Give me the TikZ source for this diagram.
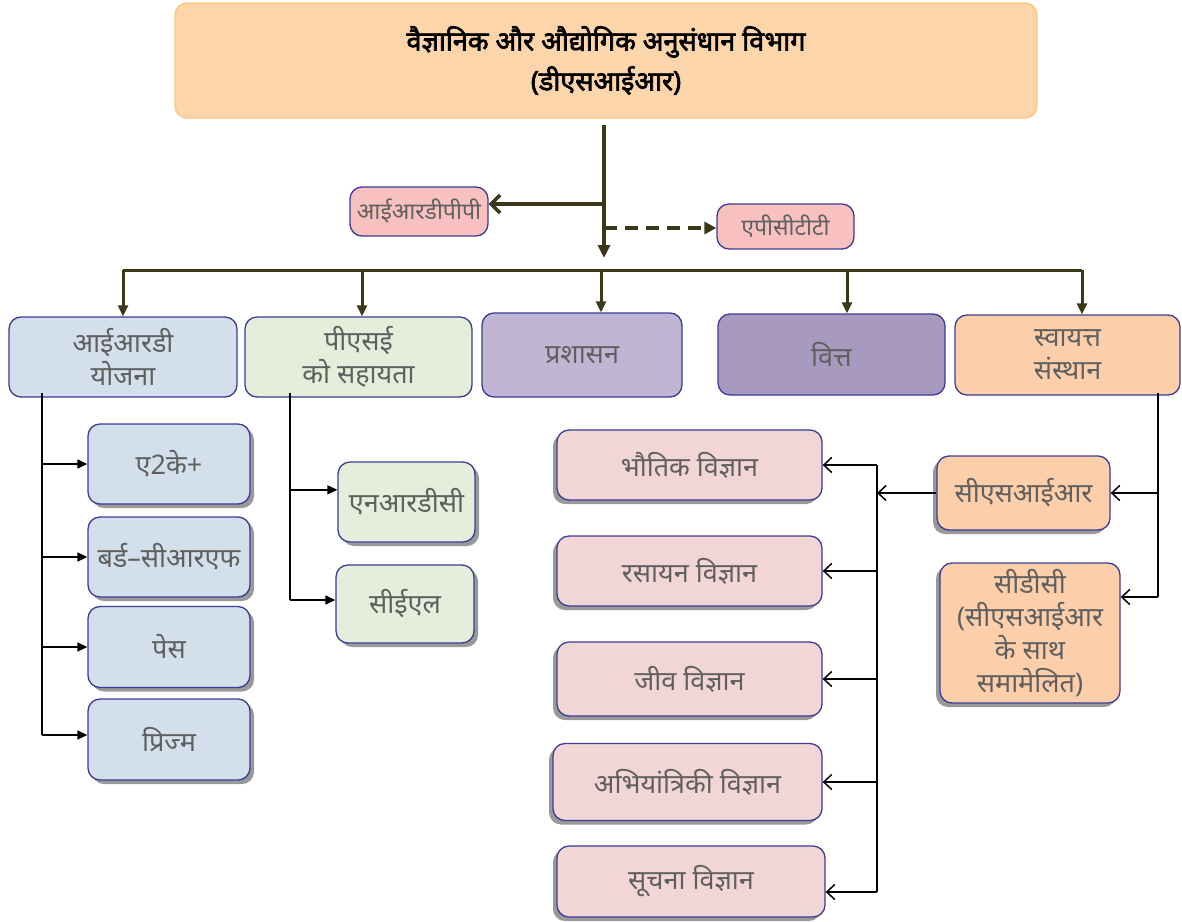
\documentclass[tikz,border=0pt]{standalone}
\usepackage{fontspec}
\setmainfont[Script=Devanagari]{Noto Sans}
\newfontfamily\titlefont[Script=Devanagari, FakeBold=2.5]{Noto Sans}
\usetikzlibrary{arrows.meta,shadows}

\definecolor{titlefill}{HTML}{FDD5AB}
\definecolor{titleline}{HTML}{F9C77E}
\definecolor{boxline}{HTML}{3B3B98}
\definecolor{txtgray}{HTML}{5F5F5F}
\definecolor{mainline}{HTML}{3A3817}
\definecolor{pinkfill}{HTML}{F9C0C0}
\definecolor{bluefill}{HTML}{D3DFEB}
\definecolor{greenfill}{HTML}{E4EEDA}
\definecolor{lilacfill}{HTML}{C0B6D4}
\definecolor{purplefill}{HTML}{A899BF}
\definecolor{peachfill}{HTML}{FCCEAA}
\definecolor{scifill}{HTML}{F2D6D5}

\begin{document}
\begin{tikzpicture}[x=1pt, y=-1pt,
    box/.style={draw=boxline, line width=1.3pt, rounded corners=12pt, inner sep=0pt,
      align=center, text=txtgray, font=\fontsize{27}{33}\selectfont},
    rshadow/.style={drop shadow={shadow xshift=4pt, shadow yshift=-4pt, fill=gray!80, opacity=1}},
    lshadow/.style={drop shadow={shadow xshift=-4pt, shadow yshift=-4pt, fill=gray!80, opacity=1}},
    trunk/.style={draw=mainline, line width=3.5pt},
    drop/.style={draw=mainline, line width=3pt, -{Triangle[length=11pt,width=10pt]}},
    sub/.style={draw=black, line width=1.5pt},
    subarrow/.style={sub, -{Triangle[length=10pt,width=9pt]}},
    openarrow/.style={sub, -{Straight Barb[length=8pt,width=15pt]}}]

  \useasboundingbox (0,0) rectangle (1182,921);

  % head office
  \node[box, draw=titleline, fill=titlefill, text=black, minimum width=862pt, minimum height=115pt,
    font=\titlefont\fontsize{27}{40}\selectfont] (dsir) at (606,60.5)
    {वैज्ञानिक और औद्योगिक अनुसंधान विभाग\\(डीएसआईआर)};

  \node[box, fill=pinkfill, minimum width=138pt, minimum height=49pt,
    font=\fontsize{23}{26}\selectfont] (irdppp) at (419,211.5) {आईआरडीपीपी};
  \node[box, fill=pinkfill, minimum width=137pt, minimum height=45pt,
    font=\fontsize{23}{26}\selectfont] (apctt) at (785.5,226.5) {एपीसीटीटी};

  % divisions
  \node[box, fill=bluefill, minimum width=228pt, minimum height=80pt] (ird) at (123,357) {आईआरडी\\योजना};
  \node[box, fill=greenfill, minimum width=227pt, minimum height=80pt] (pse) at (358.5,357) {पीएसई\\को सहायता};
  \node[box, fill=lilacfill, minimum width=200pt, minimum height=84pt] (admin) at (582,355) {प्रशासन};
  \node[box, fill=purplefill, minimum width=227pt, minimum height=81pt] (fin) at (831.5,354.5) {वित्त};
  \node[box, fill=peachfill, minimum width=225pt, minimum height=80pt] (auto) at (1067.5,355) {स्वायत्त\\संस्थान};

  % ird schemes
  \node[box, rshadow, fill=bluefill, minimum width=162pt, minimum height=80pt] (atok) at (169,464) {ए2के+};
  \node[box, rshadow, fill=bluefill, minimum width=162pt, minimum height=80pt] (bird) at (169,557) {बर्ड–सीआरएफ};
  \node[box, rshadow, fill=bluefill, minimum width=162pt, minimum height=81pt] (pace) at (169,647) {पेस};
  \node[box, rshadow, fill=bluefill, minimum width=162pt, minimum height=81pt] (prism) at (169,739.5) {प्रिज्म};

  % pse
  \node[box, rshadow, fill=greenfill, minimum width=137pt, minimum height=80pt] (nrdc) at (406.5,502) {एनआरडीसी};
  \node[box, rshadow, fill=greenfill, minimum width=138pt, minimum height=78pt] (cel) at (405,604) {सीईएल};

  % autonomous bodies
  \node[box, lshadow, fill=peachfill, minimum width=173pt, minimum height=74pt] (csir) at (1023.5,493) {सीएसआईआर};
  \node[box, lshadow, fill=peachfill, minimum width=180pt, minimum height=140pt] (cdc) at (1030,633)
    {सीडीसी\\(सीएसआईआर\\के साथ\\समामेलित)};

  % labs
  \node[box, lshadow, fill=scifill, minimum width=265pt, minimum height=70pt] (phy) at (689.5,465) {भौतिक विज्ञान};
  \node[box, lshadow, fill=scifill, minimum width=265pt, minimum height=70pt] (chem) at (689.5,571) {रसायन विज्ञान};
  \node[box, lshadow, fill=scifill, minimum width=265pt, minimum height=74pt] (bio) at (689.5,679) {जीव विज्ञान};
  \node[box, lshadow, fill=scifill, minimum width=269pt, minimum height=77pt] (engg) at (687.5,782) {अभियांत्रिकी विज्ञान};
  \node[box, lshadow, fill=scifill, minimum width=268pt, minimum height=71pt] (info) at (691,881.5) {सूचना विज्ञान};

  % trunk
  \coordinate (t0) at (604,125);
  \coordinate (t1) at (604,258);
  \coordinate (j1) at (604,204);
  \coordinate (j2) at (604,228);
  \draw[trunk, -{Triangle[length=13pt,width=12pt]}] (t0) -- (t1);
  \draw[trunk, -{Straight Barb[length=9pt,width=18pt]}] (j1) -- (j1 -| irdppp.east);
  \draw[trunk, dash pattern=on 13pt off 8pt, -{Triangle[length=12pt,width=12pt]}] (j2) -- (j2 -| apctt.west);

  % bar
  \coordinate (d1) at (123,270);
  \coordinate (d2) at (362,270);
  \coordinate (d3) at (601,270);
  \coordinate (d4) at (847,270);
  \coordinate (d5) at (1082,270);
  \draw[trunk, line width=3pt] (d1) -- (d5);
  \draw[drop] (d1) -- (d1 |- ird.north);
  \draw[drop] (d2) -- (d2 |- pse.north);
  \draw[drop] (d3) -- (d3 |- admin.north);
  \draw[drop] (d4) -- (d4 |- fin.north);
  \draw[drop] (d5) -- (d5 |- auto.north);

  % left branch
  \coordinate (l0) at (42,393);
  \coordinate (l1) at (42,735);
  \draw[sub] (l0) -- (l1);
  \draw[subarrow] (atok.west -| l0) -- (atok.west);
  \draw[subarrow] (bird.west -| l0) -- (bird.west);
  \draw[subarrow] (pace.west -| l0) -- (pace.west);
  \draw[subarrow] (l1) -- (l1 -| prism.west);

  \coordinate (p0) at (290,393);
  \coordinate (p1) at (290,600);
  \draw[sub] (p0) -- (p1);
  \draw[subarrow] (nrdc.170 -| p0) -- (nrdc.170);
  \draw[subarrow] (p1) -- (p1 -| cel.west);

  % right branch
  \coordinate (r0) at (1158,393);
  \coordinate (r1) at (1158,597);
  \draw[sub] (r0) -- (r1);
  \draw[openarrow] (csir.east -| r0) -- (csir.east);
  \draw[openarrow] (r1) -- (r1 -| cdc.east);

  \coordinate (s0) at (877,465);
  \coordinate (s1) at (877,892);
  \draw[sub] (s0) -- (s1);
  \draw[openarrow] (csir.west) -- (csir.west -| s0);
  \draw[openarrow] (s0) -- (phy.east);
  \draw[openarrow] (chem.east -| s0) -- (chem.east);
  \draw[openarrow] (bio.east -| s0) -- (bio.east);
  \draw[openarrow] (engg.east -| s0) -- (engg.east);
  \draw[openarrow] (s1) -- (s1 -| info.east);

\end{tikzpicture}
\end{document}
